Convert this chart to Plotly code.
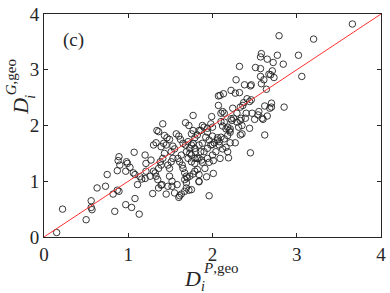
import plotly.graph_objects as go

# D_i^{P,geo} values (x) and D_i^{G,geo} values (y)
dp_geo = [
    3.66, 2.79, 3.20, 3.02, 2.77, 2.58, 2.57, 2.65, 2.72, 2.84, 2.32, 2.51, 2.57, 2.71, 2.67, 2.69,
    2.57, 2.73, 3.06, 2.61, 2.28, 2.58, 2.38, 2.46, 2.45, 2.64, 2.22, 2.27, 2.32, 2.13, 2.09, 2.07,
    2.41, 2.46, 2.44, 2.07, 2.24, 2.36, 2.37, 2.33, 2.62, 2.70, 2.70, 2.68, 2.85, 2.55, 2.12, 2.10,
    2.14, 1.99, 2.29, 2.25, 2.22, 2.40, 2.39, 2.34, 2.47, 2.59, 2.60, 2.54, 2.50, 2.65, 1.88, 1.84,
    1.82, 1.98, 2.00, 1.94, 2.10, 2.14, 2.12, 2.18, 2.21, 2.20, 2.16, 2.23, 2.29, 2.33, 2.31, 2.35,
    2.44, 2.33, 2.35, 2.62, 2.06, 2.08, 2.02, 2.00, 2.21, 2.27, 2.16, 2.12, 2.18, 2.19, 2.45, 2.09,
    2.01, 1.96, 1.91, 1.88, 2.01, 1.93, 1.84, 1.84, 1.84, 1.86, 1.84, 1.87, 1.86, 1.90, 1.94, 1.92,
    1.96, 2.00, 1.88, 1.90, 1.94, 1.98, 2.06, 2.10, 2.14, 2.18, 2.21, 2.08, 2.04, 2.00, 1.94, 1.77,
    0.22, 0.50, 0.56, 0.56, 0.57, 0.63, 0.73, 0.75, 0.82, 0.84, 0.87, 0.89, 0.87, 0.88, 0.89, 0.90,
    0.97, 0.98, 0.99, 0.97, 1.02, 1.04, 1.07, 1.06, 1.08, 1.08, 1.11, 1.13, 1.14, 1.16, 1.20, 1.21,
    1.21, 1.20, 1.27, 1.26, 1.29, 1.30, 1.33, 1.34, 1.36, 1.41, 1.30, 1.32, 1.33, 1.35, 1.36, 1.38,
    1.39, 1.41, 1.43, 1.36, 1.39, 1.39, 1.42, 1.45, 1.43, 1.46, 1.49, 1.45, 1.47, 1.49, 1.51, 1.53,
    1.49, 1.52, 1.51, 1.55, 1.53, 1.55, 1.57, 1.60, 1.62, 1.58, 1.60, 1.61, 1.59, 1.61, 1.63, 1.64,
    1.65, 1.67, 1.69, 1.68, 1.72, 1.65, 1.68, 1.71, 1.73, 1.75, 1.77, 1.79, 1.73, 1.75, 1.79, 1.75,
    1.71, 1.69, 1.69, 1.72, 1.75, 1.67, 1.70, 1.73, 1.77, 1.79, 1.82, 1.75, 1.77, 1.79, 1.80, 1.82,
    1.79, 1.96, 1.40, 1.47, 1.52, 1.63, 1.67, 1.69, 1.84, 0.15,
]
dg_geo = [
    3.82, 3.61, 3.55, 3.26, 3.26, 3.29, 3.23, 3.19, 3.13, 3.10, 3.06, 3.04, 3.02, 2.98, 2.92, 2.91,
    2.88, 2.86, 2.88, 2.82, 2.82, 2.75, 2.73, 2.73, 2.71, 2.65, 2.63, 2.58, 2.59, 2.57, 2.54, 2.53,
    2.48, 2.46, 2.43, 2.36, 2.31, 2.36, 2.41, 2.33, 2.35, 2.40, 2.33, 2.31, 2.33, 2.25, 2.25, 2.22,
    2.22, 2.16, 2.22, 2.13, 2.12, 2.22, 2.13, 2.13, 2.22, 2.13, 2.11, 2.19, 2.11, 2.17, 2.00, 1.91,
    1.83, 2.03, 1.97, 1.95, 2.07, 2.06, 1.99, 1.97, 1.94, 1.91, 1.94, 2.09, 2.06, 2.09, 1.97, 2.00,
    1.95, 1.83, 1.85, 1.83, 1.78, 1.71, 1.69, 1.66, 1.69, 1.69, 1.61, 1.58, 1.53, 1.42, 1.51, 1.41,
    1.37, 1.34, 1.23, 1.34, 1.14, 1.08, 1.12, 1.00, 1.65, 1.53, 1.41, 1.38, 1.91, 1.97, 1.88, 1.79,
    1.74, 1.81, 1.68, 1.53, 1.59, 1.65, 1.74, 1.79, 1.76, 1.82, 1.88, 1.65, 1.53, 1.47, 1.41, 2.18,
    0.50, 0.31, 0.65, 0.53, 0.49, 0.88, 0.91, 1.12, 0.77, 0.46, 0.84, 0.82, 1.19, 1.37, 1.44, 1.29,
    0.58, 1.35, 1.32, 1.18, 1.25, 0.53, 1.52, 1.15, 1.12, 0.69, 0.94, 0.41, 1.08, 1.04, 1.47, 1.32,
    1.18, 1.05, 1.38, 1.09, 0.78, 1.65, 1.69, 1.91, 1.89, 2.03, 1.18, 1.15, 1.09, 1.03, 1.23, 1.35,
    1.29, 1.41, 1.50, 0.88, 0.93, 1.62, 1.68, 1.65, 1.82, 1.78, 1.75, 0.77, 1.29, 1.23, 1.35, 1.41,
    1.09, 1.00, 1.53, 1.58, 1.63, 0.79, 1.85, 1.81, 1.75, 0.94, 0.71, 0.74, 1.41, 1.35, 1.47, 1.29,
    1.23, 1.15, 1.09, 2.05, 2.00, 1.68, 1.65, 1.71, 1.59, 1.65, 1.68, 1.59, 1.50, 1.47, 1.41, 1.35,
    1.41, 1.53, 0.88, 0.84, 0.85, 1.03, 1.06, 1.09, 1.13, 1.18, 1.21, 1.85, 1.91, 1.78, 1.53, 1.41,
    1.32, 0.74, 0.94, 0.91, 0.91, 0.77, 0.82, 0.97, 0.99, 0.08,
]
identity_line = [0, 4]
tick_values = [0, 1, 2, 3, 4]
panel_label = "(c)"

W, H = 390, 293
ML, MR, MT, MB = 44, 4, 10, 56
PW, PH = W - ML - MR, H - MT - MB

def px2paper(px, py):
    return (px - ML) / PW, (H - MB - py) / PH

SERIF = "Liberation Serif"
AX = "#262626"

fig = go.Figure()
fig.add_trace(go.Scatter(
    x=dp_geo, y=dg_geo, mode="markers",
    marker=dict(symbol="circle-open", size=6.5, color="#222222", line=dict(width=0.9)),
    showlegend=False, hoverinfo="skip",
))
fig.add_trace(go.Scatter(
    x=identity_line, y=identity_line, mode="lines",
    line=dict(color="#ff3030", width=1), showlegend=False, hoverinfo="skip",
))

axis_common = dict(
    range=[0, 4], tickvals=tick_values, ticks="inside", ticklen=4, tickwidth=1,
    tickcolor=AX, showline=True, linecolor=AX, linewidth=1, mirror="ticks",
    showgrid=False, zeroline=False, ticklabeloverflow="allow",
    tickfont=dict(family=SERIF, size=19, color=AX),
)
fig.update_xaxes(**axis_common)
fig.update_yaxes(**axis_common)

ann = []
def add_text(text, px, py, size, angle=0):
    x, y = px2paper(px, py)
    ann.append(dict(text=text, x=x, y=y, xref="paper", yref="paper", showarrow=False,
                    xanchor="center", yanchor="middle", textangle=angle,
                    font=dict(family=SERIF, size=size, color=AX)))

add_text(panel_label, 74, 36, 19)
# x label: D_i^{P,geo}
add_text("<i>D</i>", 195, 279, 22)
add_text("<i>P</i>,geo", 224, 269, 15)
add_text("<i>i</i>", 205, 287, 14)
# y label: D_i^{G,geo}
add_text("<i>D</i>", 20, 104, 22, -90)
add_text("<i>G</i>,geo", 10, 74, 15, -90)
add_text("<i>i</i>", 30, 94, 14, -90)

fig.update_layout(
    width=W, height=H, margin=dict(l=ML, r=MR, t=MT, b=MB),
    paper_bgcolor="white", plot_bgcolor="white", annotations=ann,
)
fig.write_html(
    "out.html",
    config={"displayModeBar": False},
    post_script="document.body.style.margin='0px';document.body.style.padding='0px';",
)
